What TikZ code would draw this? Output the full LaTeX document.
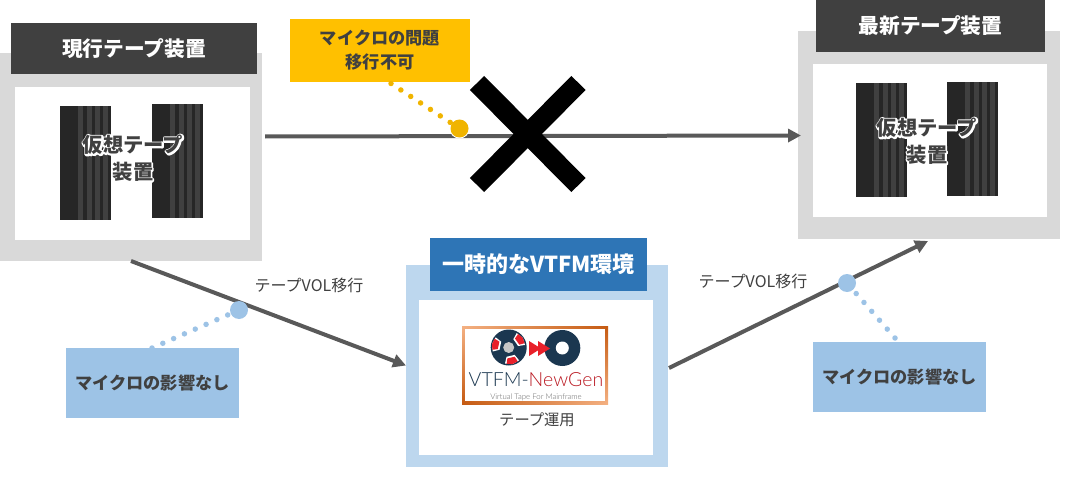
\documentclass[tikz,border=0pt]{standalone}
\usepackage{fontspec}
\setmainfont{Noto Sans CJK JP}
\newfontfamily\logofont{Lato Light}
\usetikzlibrary{arrows.meta,shadings}
\definecolor{txt}{HTML}{404040}
\definecolor{graybox}{HTML}{D9D9D9}
\definecolor{headdark}{HTML}{404040}
\definecolor{lightblue}{HTML}{BDD7EE}
\definecolor{headblue}{HTML}{2E75B6}
\definecolor{noteblue}{HTML}{9DC3E6}
\definecolor{noteyellow}{HTML}{FFC000}
\definecolor{dotyellow}{HTML}{F0B400}
\definecolor{linegray}{HTML}{595959}
\definecolor{rackdark}{HTML}{262626}
\definecolor{rackstripe}{HTML}{404040}
\definecolor{navy}{HTML}{1B3750}
\definecolor{logored}{HTML}{E8202A}
\definecolor{logolight}{HTML}{F4B183}
\definecolor{logodark}{HTML}{C55A11}
\newcommand{\halotext}[1]{\rlap{\special{pdf:code q 1 1 1 rg 1 1 1 RG 3.2 w 1 j 2 Tr}#1\special{pdf:code Q}}#1}
\tikzset{
  boxn/.style={draw=none,inner sep=0pt,outer sep=0pt,align=center},
  outer/.style={boxn,fill=graybox},
  inner/.style={boxn,fill=white},
  head/.style={boxn,fill=headdark,text=white,font=\fontsize{20.7}{25}\selectfont\bfseries},
  bluehead/.style={boxn,fill=headblue,text=white,font=\fontsize{22}{25}\selectfont\bfseries},
  note/.style={boxn,text=txt,font=\fontsize{17.2}{24}\selectfont\bfseries},
  small/.style={inner sep=0pt,text=txt,font=\fontsize{15.3}{17}\selectfont},
  volabel/.style={inner sep=0pt,text=txt,font=\fontsize{16}{17}\selectfont},
  halo/.style={inner sep=0pt,align=center,text=txt,font=\fontsize{20.3}{27}\selectfont\bfseries},
  conn/.style={line width=4pt,draw=linegray,-{Triangle[length=13pt,width=13pt]}},
  cross/.style={line width=20pt,draw=black},
  dotline/.style={line width=5.5pt,line cap=round,dash pattern=on 0pt off 11.8pt},
  blob/.style={circle,inner sep=0pt,minimum size=18pt},
}
\newcommand{\rackbar}[3]{% x, y top, height
  \fill[rackdark] (#1,#2) rectangle ++(51,#3);
  \foreach \s in {18,27,35,43}{\fill[rackstripe] ({#1+\s},#2) rectangle ++(4.5,#3);}
}
\newcommand{\reelseg}[3]{% centre, from, to
  \pgfmathsetmacro\segm{(#2+#3)/2}
  \pgfmathsetmacro\sega{#2-6}
  \pgfmathsetmacro\segb{#3+6}
  \fill[white] ([shift={(#1)}]\sega:9.5) -- ([shift={(#1)}]\sega:16.5) -- ([shift={(#1)}]\segm:17) -- ([shift={(#1)}]\segb:16.5) -- ([shift={(#1)}]\segb:9.5) -- cycle;
  \fill[logored] ([shift={(#1)}]#2:11) -- ([shift={(#1)}]#2:16.5) -- ([shift={(#1)}]\segm:17) -- ([shift={(#1)}]#3:16.5) -- ([shift={(#1)}]#3:11) -- cycle;
}
\begin{document}
\begin{tikzpicture}[x=1pt,y=-1pt]
\useasboundingbox (0,0) rectangle (1078,492);
% left unit
\node[outer,minimum width=262pt,minimum height=208pt] (lo) at (131,157) {};
\node[inner,minimum width=235pt,minimum height=153pt] (li) at (132.5,163.5) {};
\node[head,minimum width=246pt,minimum height=51pt] (lh) at (134,48.5) {現行テープ装置};
\rackbar{60}{106}{114}
\rackbar{152}{104}{114}
\node[halo] (lt) at (133,158.5) {\halotext{仮想テープ}\\\halotext{装置}};
% right unit
\node[outer,minimum width=262pt,minimum height=208pt] (ro) at (929,135) {};
\node[inner,minimum width=234pt,minimum height=153pt] (ri) at (930,140.5) {};
\node[head,minimum width=229pt,minimum height=52pt] (rh) at (930.5,26) {最新テープ装置};
\rackbar{856}{83}{114}
\rackbar{947}{82}{114}
\node[halo] (rt) at (927,141.5) {\halotext{仮想テープ}\\\halotext{装置}};
% middle unit
\node[boxn,fill=lightblue,minimum width=262pt,minimum height=202pt] (mo) at (537,366) {};
\node[inner,minimum width=234pt,minimum height=155pt] (mi) at (536,377.5) {};
\node[bluehead,minimum width=217pt,minimum height=53pt] (mh) at (538.5,264.5) {一時的なVTFM環境};
% logo
\shade[upper left=logolight,upper right=logodark,lower left=logodark,lower right=logolight]
  (462,326) rectangle (608,404);
\fill[white] (465,329) rectangle (605,401);
\node[circle,fill=navy,inner sep=0pt,minimum size=36pt] (reelA) at (508.7,347.5) {};
\reelseg{508.7,347.5}{-55}{-15}
\reelseg{508.7,347.5}{57}{97}
\reelseg{508.7,347.5}{172}{212}
\node[circle,fill=gray!45,inner sep=0pt,minimum size=11pt] (hub) at (508.7,347.5) {};
\node[circle,fill=navy,inner sep=0pt,minimum size=36pt] (reelB) at (562.3,348) {};
\node[circle,fill=white,inner sep=0pt,minimum size=13pt] (hole) at (562.3,348) {};
\fill[logored] (529,341) -- (541,348.5) -- (529,356) -- cycle;
\fill[logored] (538,341) -- (550,348.5) -- (538,356) -- cycle;
\node[inner sep=0pt,font=\logofont\fontsize{19.5}{22}\selectfont] (lg) at (536,380) {\textcolor{navy}{VTFM-}\textcolor{logored!80!black}{NewGen}};
\node[inner sep=0pt,text=gray!80!black,font=\logofont\fontsize{7.8}{9}\selectfont] (lgs) at (536,397) {Virtual Tape For Mainframe};
\node[small] (mt) at (537,420) {テープ運用};
% coordinates of the connectors
\coordinate (a1) at (265,136.5);
\coordinate (a2) at (801,135.5);
\coordinate (b1) at (131,261);
\coordinate (b2) at (406,365.5);
\coordinate (c1) at (669,368);
\coordinate (c2) at (928,241);
\draw[conn] (a1) -- (a2);
\draw[conn] (b1) -- (b2);
\draw[conn] (c1) -- (c2);
% cross
\coordinate (x1) at (477,83);
\coordinate (x2) at (578.5,185);
\coordinate (x3) at (578.5,83);
\coordinate (x4) at (477,185);
\draw[cross] (x1) -- (x2);
\draw[cross] (x3) -- (x4);
% labels
\node[volabel] (l1) at (309,285) {テープVOL移行};
\node[volabel] (l2) at (753,281) {テープVOL移行};
% yellow note
\node[note,fill=noteyellow,minimum width=180pt,minimum height=63pt] (ny) at (380,50.5) {マイクロの問題\\移行不可};
\node[blob,fill=white,minimum size=20pt] (dyh) at (459.5,128.5) {};
\node[blob,fill=dotyellow] (dy) at (459.5,128.5) {};
\coordinate (dy0) at (391,83.5);
\draw[dotyellow,dotline] (dy0) -- (dy);
% blue notes
\node[note,fill=noteblue,minimum width=173pt,minimum height=70pt] (nb1) at (152.5,383) {マイクロの影響なし};
\node[note,fill=noteblue,minimum width=173pt,minimum height=70pt] (nb2) at (899.5,377) {マイクロの影響なし};
\node[blob,fill=noteblue] (db1) at (239,310) {};
\node[blob,fill=noteblue] (db2) at (847,283) {};
\coordinate (e1) at (152,348);
\coordinate (e2) at (895,338);
\draw[noteblue,dotline] (e1) -- (db1);
\draw[noteblue,dotline] (e2) -- (db2);
\end{tikzpicture}
\end{document}
